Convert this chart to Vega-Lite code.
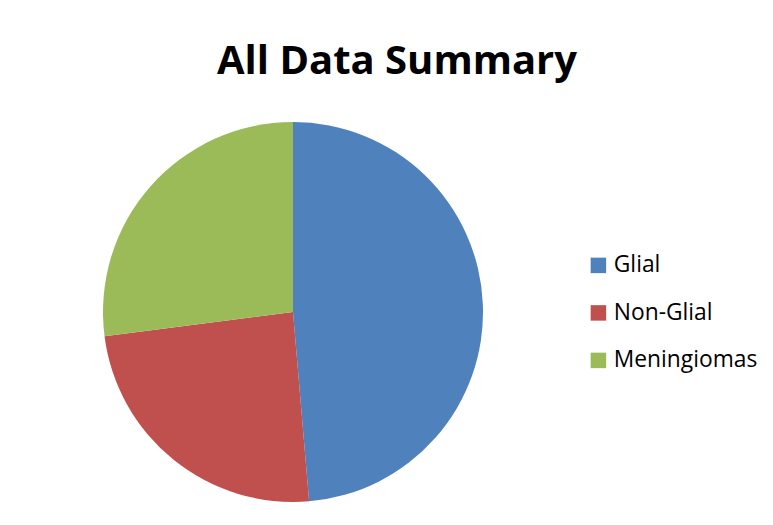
{
  "$schema": "https://vega.github.io/schema/vega-lite/v6.json",
  "width": 380,
  "height": 380,
  "autosize": {"type": "none"},
  "padding": {"left": 103, "top": 122, "right": 290, "bottom": 23},
  "background": "white",
  "title": {
    "text": "All Data Summary",
    "font": "Open Sans",
    "fontSize": 40,
    "fontWeight": "bold",
    "color": "#000000",
    "anchor": "middle",
    "dx": 104,
    "offset": 40
  },
  "data": {
    "values": [
      {"category": "Glial", "count": 36, "order": 1},
      {"category": "Non-Glial", "count": 18, "order": 2},
      {"category": "Meningiomas", "count": 20, "order": 3}
    ]
  },
  "mark": {"type": "arc", "stroke": null},
  "encoding": {
    "theta": {"field": "count", "type": "quantitative", "stack": true},
    "order": {"field": "order", "type": "quantitative"},
    "color": {
      "field": "category",
      "type": "nominal",
      "sort": ["Glial", "Non-Glial", "Meningiomas"],
      "scale": {
        "domain": ["Glial", "Non-Glial", "Meningiomas"],
        "range": ["#4F81BD", "#C0504D", "#9BBB59"]
      },
      "legend": {
        "title": null,
        "orient": "none",
        "legendX": 484,
        "legendY": 132,
        "symbolType": "square",
        "symbolSize": 240,
        "symbolStrokeWidth": 0,
        "labelFont": "Open Sans",
        "labelFontSize": 22.8,
        "labelColor": "#000000",
        "rowPadding": 23.5,
        "labelOffset": 4,
        "labelLimit": 300
      }
    }
  },
  "config": {"view": {"stroke": null}}
}
